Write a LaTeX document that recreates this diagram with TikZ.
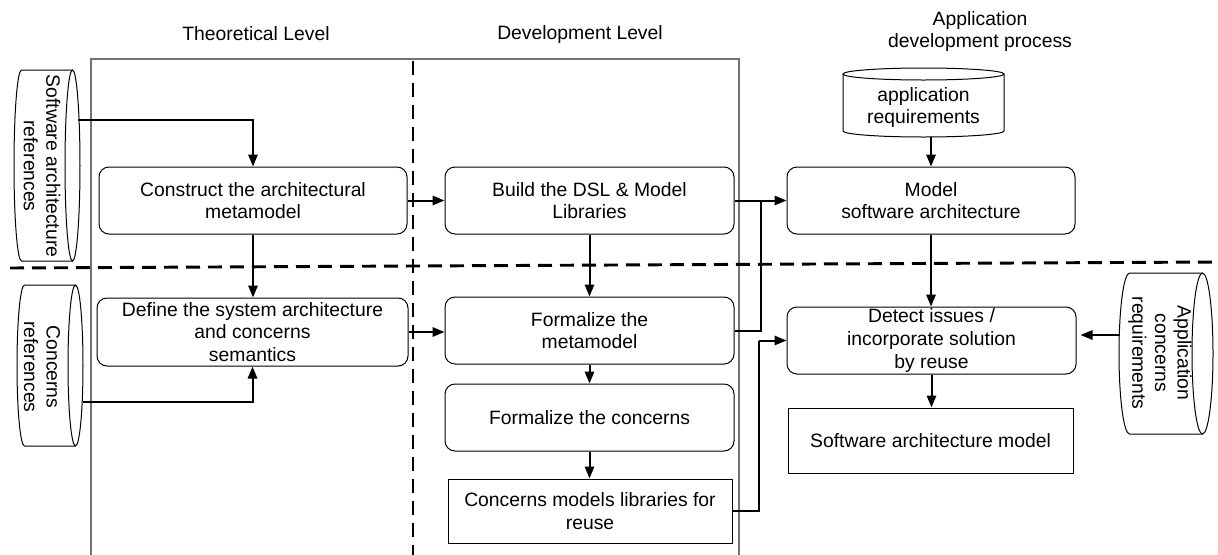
\documentclass[tikz,border=0pt]{standalone}
\usepackage{fontspec}
\setmainfont{Liberation Sans}
\usetikzlibrary{arrows.meta}
\begin{document}
\begin{tikzpicture}[x=0.75pt,y=-0.75pt,
  every node/.style={font=\fontsize{14.5pt}{16.9pt}\selectfont, align=center, inner sep=0pt},
  rbox/.style={draw, line width=0.75pt, rounded corners=7.5pt},
  sbox/.style={draw, line width=0.75pt},
  conn/.style={line width=1.5pt, -{Triangle[length=9pt,width=7pt]}},
  plain/.style={line width=1.5pt},
  sep/.style={line width=2.2pt, dash pattern=on 10.5pt off 6pt},
  frame/.style={line width=1.1pt, draw=black!55},
  cyl/.style={line width=0.75pt}]
\useasboundingbox (0,0) rectangle (1218,554);

% titles
\node (t1) at (256,34) {Theoretical Level};
\node (t2) at (580,34) {Development Level};
\node (t3) at (980,31.5) {Application\\development process};

% frame and separators
\draw[frame] (91,560) -- (91,59) -- (739,59) -- (739,560);
\draw[sep] (413,61) -- (413,560);
\draw[sep] (10,268) -- (1218,262);

% boxes
\node[rbox, minimum width=231pt, minimum height=50.25pt] (A) at (253,200.5) {Construct the architectural\\metamodel};
\node[rbox, minimum width=233.25pt, minimum height=51pt] (B) at (252.5,332) {Define the system architecture\\and concerns\\semantics};
\node[rbox, minimum width=216.75pt, minimum height=50.25pt] (C) at (589.5,200.5) {Build the DSL \& Model\\Libraries};
\node[rbox, minimum width=216pt, minimum height=50.25pt] (D) at (931,200.5) {Model\\software architecture};
\node[rbox, minimum width=216.75pt, minimum height=50.25pt] (E) at (589.5,330.5) {Formalize the\\metamodel};
\node[rbox, minimum width=216.75pt, minimum height=50.25pt] (F) at (589.5,417.5) {Formalize the concerns};
\node[sbox, minimum width=213pt, minimum height=48pt] (G) at (590,511) {Concerns models libraries for\\reuse};
\node[rbox, minimum width=216.75pt, minimum height=50.25pt] (H) at (931.5,340.5) {Detect issues /\\incorporate solution\\by reuse};
\node[sbox, minimum width=213.75pt, minimum height=48.75pt] (I) at (930.5,440.5) {Software architecture model};

% cylinder 1: Software architecture references
\draw[cyl] (72.5,70) -- (21.5,70) arc[start angle=90, end angle=270, x radius=5.625pt, y radius=71.625pt] -- (72.5,261);
\draw[cyl] (72.5,165.5) ellipse[x radius=5.625pt, y radius=71.625pt];
\node[rotate=-90] (cy1) at (42,166) {Software architecture\\references};
\coordinate (c1out) at (78,120);

% cylinder 2: Concerns references
\draw[cyl] (75.5,285) -- (24.5,285) arc[start angle=90, end angle=270, x radius=5.625pt, y radius=60.375pt] -- (75.5,446);
\draw[cyl] (75.5,365.5) ellipse[x radius=5.625pt, y radius=60.375pt];
\node[rotate=-90] (cy2) at (42,367) {Concerns\\references};
\coordinate (c2out) at (83,402);

% cylinder 3: Application concerns requirements
\draw[cyl] (1202.5,273) -- (1129.5,273) arc[start angle=90, end angle=270, x radius=7.875pt, y radius=60.375pt] -- (1202.5,434);
\draw[cyl] (1202.5,353.5) ellipse[x radius=7.875pt, y radius=60.375pt];
\node[rotate=-90] (cy3) at (1160,353) {Application\\concerns\\requirements};
\coordinate (c3out) at (1119,335);

% cylinder 4: application requirements
\draw[cyl] (843,74) -- (843,131) arc[start angle=180, end angle=360, x radius=60.375pt, y radius=4.5pt] -- (1004,74);
\draw[cyl] (923.5,74) ellipse[x radius=60.375pt, y radius=4.5pt];
\node (cy4) at (923.5,107.5) {application\\requirements};
\coordinate (c4out) at (931,137);

% junction coordinates
\coordinate (J) at (761,200.5);
\coordinate (K) at (759,340.5);

% connectors
\draw[conn] (c1out) -| (A.north);
\draw[conn] (c2out) -| (B.south);
\draw[conn] (A.south) -- (A.south |- B.north);
\draw[conn] (A.east) -- (C.west);
\draw[conn] (B.east) -- (B.east -| E.west);
\draw[conn] (C.south) -- (E.north);
\draw[conn] (E.south) -- (F.north);
\draw[conn] (F.south) -- (F.south |- G.north);
\draw[conn] (C.east) -- (D.west);
\draw[plain] (E.east) -| (J);
\draw[plain] (G.east) -| (K);
\draw[conn] (K) -- (H.west);
\draw[conn] (c4out) -- (D.north);
\draw[conn] (D.south) -- (D.south |- H.north);
\draw[conn] (H.south) -- (H.south |- I.north);
\draw[conn, shorten >=3pt] (c3out) -- (c3out -| H.east);
\end{tikzpicture}
\end{document}
